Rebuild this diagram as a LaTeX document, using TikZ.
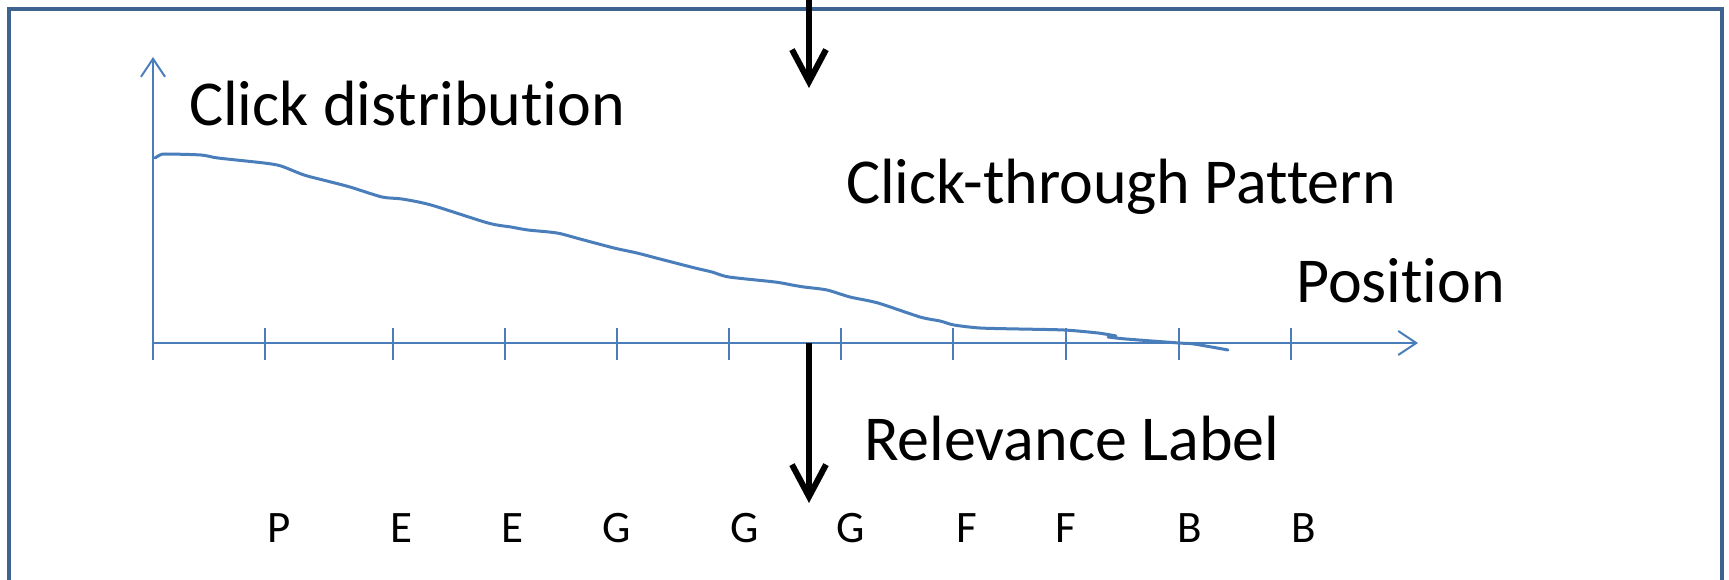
\documentclass[tikz,border=0pt]{standalone}
\usepackage{fontspec}
\setmainfont{Carlito}[Ligatures={NoCommon,NoContextual,NoRare,NoDiscretionary},RawFeature={-liga;-clig;-calt;-dlig}]
\usetikzlibrary{arrows.meta}
\definecolor{framec}{HTML}{3F6390}
\definecolor{axisc}{HTML}{4A7EBB}
\tikzset{
  axisline/.style={draw=axisc, line width=2pt},
  tickline/.style={draw=axisc, line width=2pt},
  axisarrow/.style={axisline, -{Straight Barb[length=18pt,width=24pt,line width=2pt]}},
  curveline/.style={draw=axisc, line width=3pt, line cap=round, line join=round},
  bigarrow/.style={draw=black, line width=6pt, -{Straight Barb[length=32pt,width=34pt,line width=6pt]}},
  bigtext/.style={font=\fontsize{64}{70}\selectfont, inner sep=0pt, anchor=base west},
  lettertext/.style={font=\fontsize{45}{50}\selectfont, inner sep=0pt, anchor=base},
}
\begin{document}
\begin{tikzpicture}[x=1pt,y=-1pt]
\useasboundingbox (0,0) rectangle (1729,580);
\clip (0,0) rectangle (1729,580);
\fill[white] (0,0) rectangle (1729,580);
% frame
\draw[framec, line width=4pt] (9,600) -- (9,9) -- (1722,9) -- (1722,600);
% axes
\coordinate (O) at (153,343);
\coordinate (ytop) at (153,57);
\coordinate (ybot) at (153,360);
\coordinate (xend) at (1418,343);
\draw[axisarrow] (ybot) -- (ytop);
\draw[axisarrow] (O) -- (xend);
\foreach \x [count=\i] in {265,393,505,617,729,841,953,1066,1179,1291} {
  \coordinate (t\i) at (\x,328);
  \coordinate (b\i) at (\x,360);
  \draw[tickline] (t\i) -- (b\i);
}
% curve
\draw[curveline] plot[smooth, tension=0.45] coordinates {
(155,158) (160,155) (166,154) (201,155) (218,158) (264,163) (281,166) (304,175) (327,181) (350,187) (382,197) (402,199) (431,205) (488,223) (511,227) (528,230) (557,233) (580,239) (614,248) (637,253) (660,259) (695,268) (712,272) (729,277) (775,282) (792,285) (804,287) (827,290) (850,297) (878,303) (920,317) (940,321) (954,325) (980,328) (1019,329) (1064,330) (1098,333) (1116,336)};
\draw[curveline] plot[smooth, tension=0.45] coordinates {
(1108,337) (1126,339) (1179,343) (1194,344) (1228,350)};
% black arrows
\coordinate (a1s) at (809,-5);
\coordinate (a1e) at (809,88);
\coordinate (a2s) at (809,343);
\coordinate (a2e) at (809,503);
\draw[bigarrow] (a1s) -- (a1e);
\draw[bigarrow] (a2s) -- (a2e);
% texts
\node[bigtext] (clickdist) at (189,126) {Click distribution};
\node[bigtext] (pattern) at (846,204) {Click-through Pattern};
\node[bigtext] (position) at (1296,302) {Position};
\node[bigtext] (relevance) at (864,460) {Relevance Label};
\foreach \x/\l [count=\i] in {279/P,401/E,512/E,617/G,745/G,851/G,967/F,1066/F,1190/B,1304/B} {
  \node[lettertext] (L\i) at (\x,542) {\l};
}
\end{tikzpicture}
\end{document}
